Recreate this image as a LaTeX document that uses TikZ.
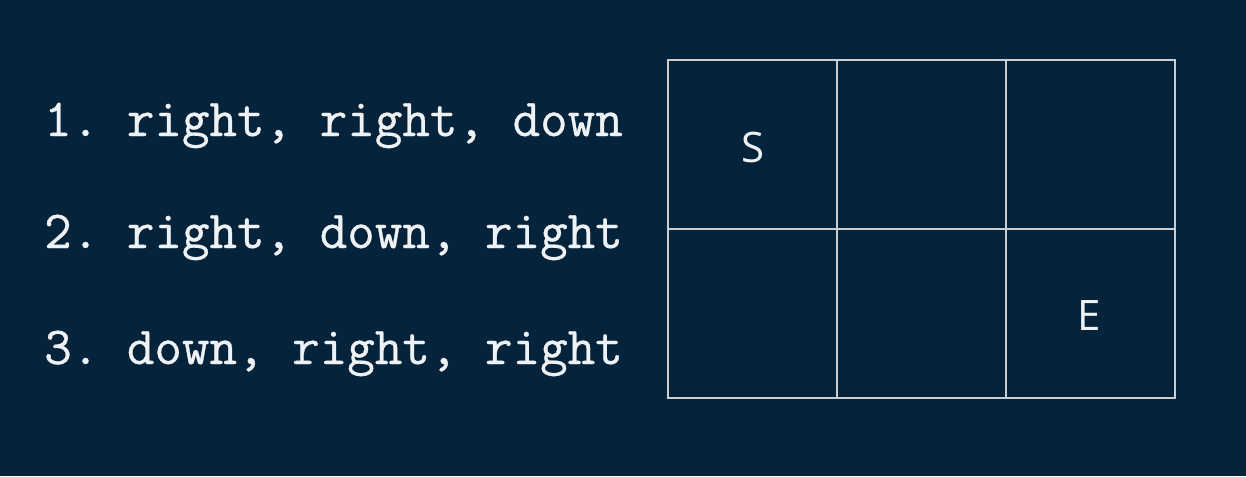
\documentclass[tikz,border=0pt]{standalone}
\usepackage{fontspec}
\setmonofont[FakeBold=0.6]{Latin Modern Mono}
\newfontfamily\cellfont{Open Sans}
\usetikzlibrary{positioning}
\definecolor{gridbg}{HTML}{05233A}
\definecolor{gridline}{HTML}{C9CED3}
\definecolor{movetext}{HTML}{EEF2F5}

\begin{document}
\begin{tikzpicture}[x=1pt,y=-1pt,line cap=rect,
  moveline/.style={anchor=base west,inner sep=0pt,text=movetext,
    font=\ttfamily\fontsize{53.5}{58}\selectfont},
  celllabel/.style={inner sep=0pt,text=movetext,
    font=\cellfont\fontsize{42}{46}\selectfont}]
 \fill[gridbg] (0,0) rectangle (1246,476);
 \useasboundingbox (0,0) rectangle (1246,476);
 % the three routes
 \node[moveline] (route1) at (44,136) {1. right, right, down};
 \node[moveline] (route2) at (44,248) {2. right, down, right};
 \node[moveline] (route3) at (44,364) {3. down, right, right};
 % the grid
 \foreach \xcol in {837,1006}
   \draw[gridline,line width=1.6pt] (\xcol,60)--(\xcol,398);
 \draw[gridline,line width=1.6pt] (668,229)--(1175,229);
 \draw[gridline,line width=2.8pt] (668,60) rectangle (1175,398);
 \node[celllabel] (start) at (753,147) {S};
 \node[celllabel] (finish) at (1089,316) {E};
\end{tikzpicture}
\end{document}
